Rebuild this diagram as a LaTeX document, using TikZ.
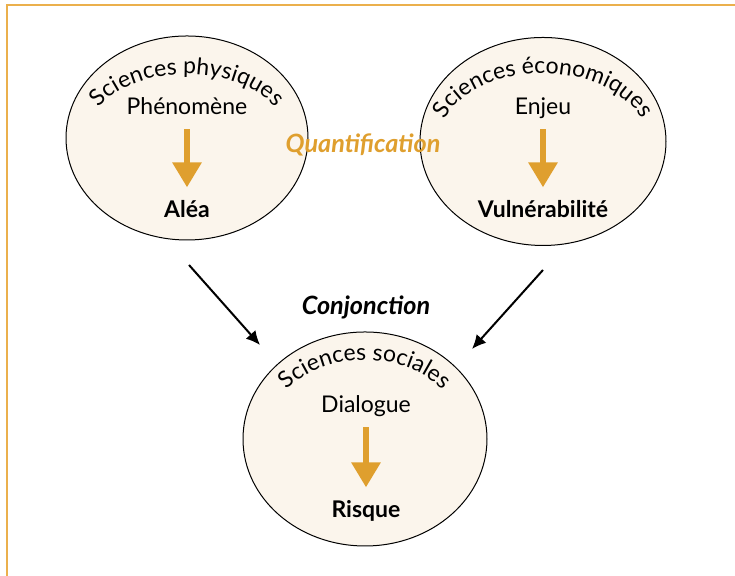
\documentclass[tikz,border=0pt]{standalone}
\usepackage{fontspec}
\setmainfont{Lato}
\usetikzlibrary{shapes.geometric, arrows.meta, decorations.text, positioning}
\definecolor{ochre}{HTML}{DF9F2E}
\definecolor{cream}{HTML}{FBF5EC}
\definecolor{framecol}{HTML}{EBB04C}
\newcommand\diafont{\fontsize{11.5}{14}\selectfont}
\newcommand\linkfont{\fontsize{12.6}{15}\selectfont}
\tikzstyle{discipline} = [ellipse, draw=black, fill=cream, line width=0.5pt,
    inner sep=0pt]
\tikzstyle{word} = [inner sep=0pt, text height=9pt, text depth=2.5pt,
    font=\diafont]
\tikzstyle{result} = [word, font=\diafont\bfseries]
\tikzstyle{linkword} = [word, font=\linkfont\bfseries\itshape]
\tikzstyle{flow} = [draw=ochre, line width=3pt, shorten <=4.5pt, shorten >=6pt,
    -{Triangle[width=14pt, length=12.5pt, fill=ochre]}]
\tikzstyle{arrow} = [line width=1pt, -{Latex[length=7pt, width=6.5pt]}]
\tikzstyle{arctext} = [decorate, decoration={text along path, text align=center}]

\begin{document}
\begin{tikzpicture}[x=0.5pt, y=0.5pt]
            \useasboundingbox (0,0) rectangle (735,576);
            % Frame
            \draw[framecol, line width=1pt] (6.5,0) |- (735,570.5);
            % Disciplines
            \node[discipline, minimum width=121pt, minimum height=102pt] (phys) at (187,438) {};
            \node[discipline, minimum width=123pt, minimum height=104pt] (eco) at (543,434.5) {};
            \node[discipline, minimum width=122pt, minimum height=107pt] (soc) at (365,137) {};
            \path[arctext, decoration={text={|\diafont|Sciences physiques}}]
            ([shift={(180:100 and 64)}]phys.center) arc[start angle=180, end angle=0, x radius=100, y radius=64];
            \path[arctext, decoration={text={|\diafont|Sciences économiques}}]
            ([shift={(180:104 and 68)}]eco.center) arc[start angle=180, end angle=0, x radius=104, y radius=68];
            \path[arctext, decoration={text={|\diafont|Sciences sociales}}]
            ([shift={(180:100 and 79)}]soc.center) arc[start angle=180, end angle=0, x radius=100, y radius=79];
            % Words
            \node[word, anchor=base] (phen) at (187,461) {Phénomène};
            \node[result, below=39.5pt of phen] (alea) {Aléa};
            \node[word, anchor=base] (enjeu) at (543,461) {Enjeu};
            \node[result, below=39.5pt of enjeu] (vuln) {Vulnérabilité};
            \node[word, anchor=base] (dial) at (366,163) {Dialogue};
            \node[result, below=40.5pt of dial] (risque) {Risque};
            \node[linkword, anchor=base, text=ochre] (quant) at (363,423) {Quantification};
            \node[linkword, anchor=base] (conj) at (366,261) {Conjonction};
            % Arrows
            \draw[flow] (phen) -- (alea);
            \draw[flow] (enjeu) -- (vuln);
            \draw[flow] (dial) -- (risque);
            \coordinate (physout) at (189,311);
            \coordinate (socleft) at (260,231);
            \coordinate (ecoout) at (543,306);
            \coordinate (socright) at (472,227);
            \draw[arrow] (physout) -- (socleft);
            \draw[arrow] (ecoout) -- (socright);

        \end{tikzpicture}
\end{document}
